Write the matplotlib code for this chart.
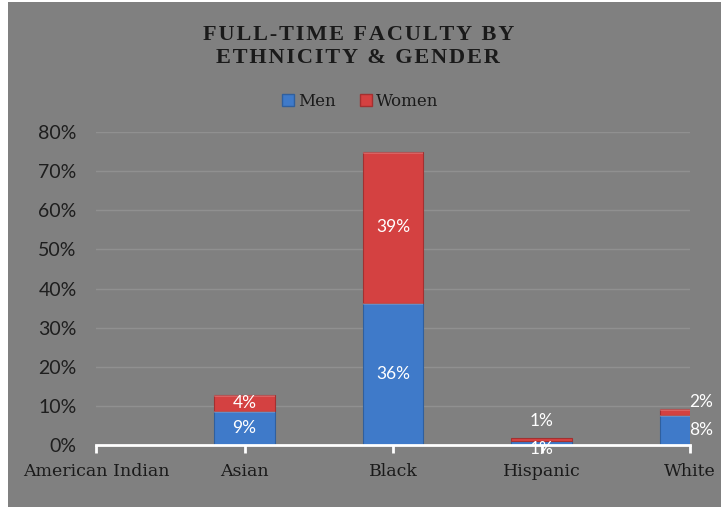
import matplotlib
matplotlib.use("Agg")
import matplotlib.pyplot as plt
from matplotlib.patches import Rectangle
from matplotlib.lines import Line2D
import numpy as np

# data (fractions)
categories = ["American Indian", "Asian", "Black", "Hispanic", "White"]
men = [0.0, 0.087, 0.363, 0.009, 0.077]
women = [0.0, 0.041, 0.386, 0.009, 0.016]
yticks = [0, 0.1, 0.2, 0.3, 0.4, 0.5, 0.6, 0.7, 0.8]
title_lines = ["FULL-TIME FACULTY BY", "ETHNICITY & GENDER"]

bg = "#808080"
blue = "#3F7AC9"
red = "#D44141"

fig = plt.figure(figsize=(7.21, 5.07), dpi=100)
fig.patch.set_facecolor("white")
fig.patches.append(Rectangle((8 / 721, 0), 1, 1 - 2 / 507, transform=fig.transFigure,
                             facecolor=bg, edgecolor="none", zorder=-10))

ax = fig.add_axes([96 / 721, 62 / 507, 594 / 721, 313 / 507])
ax.set_facecolor(bg)
x = np.arange(len(categories))
w = 0.41

b1 = ax.bar(x, men, w, color=blue, edgecolor="#2f5f9e", linewidth=0.8, zorder=3)
b2 = ax.bar(x, women, w, bottom=men, color=red, edgecolor="#a33030", linewidth=0.8, zorder=3)

# light bevel on top of each segment
for bars in (b1, b2):
    for r in bars:
        if r.get_height() > 0.01:
            ax.add_patch(Rectangle((r.get_x(), r.get_y() + r.get_height() - 0.006), r.get_width(),
                                   0.006, facecolor="white", alpha=0.18, edgecolor="none", zorder=3.5))

ax.set_xlim(0, len(categories) - 1)
ax.set_ylim(0, 0.8)
ax.set_yticks(yticks)
ax.set_yticklabels([f"{int(round(t * 100))}%" for t in yticks],
                   fontsize=14, color="#1e1e1e", family="Lato")
ax.set_xticks(x)
ax.set_xticklabels(categories, fontsize=12.5, color="#1a1a1a", family="DejaVu Serif")
ax.tick_params(axis="y", length=0, pad=14)
ax.tick_params(axis="x", length=6, width=2, color="white", pad=7)

ax.grid(axis="y", color="#909090", linewidth=1, zorder=0)
for s in ["top", "right", "left"]:
    ax.spines[s].set_visible(False)
ax.spines["bottom"].set_color("white")
ax.spines["bottom"].set_linewidth(2)
ax.spines["bottom"].set_zorder(4)

# data labels
for i in range(len(categories)):
    if men[i] == 0 and women[i] == 0:
        continue
    dx = 8 if i == len(categories) - 1 else 0
    m_off = -4 if men[i] < 0.03 else 0
    ax.annotate(f"{men[i] * 100:.0f}%", (x[i], men[i] / 2), xytext=(dx, m_off),
                textcoords="offset points", ha="center", va="center",
                color="white", fontsize=12.5, family="Lato", zorder=5, annotation_clip=False)
    if women[i] < 0.03:
        y = men[i] + women[i]
        off = 12 if i == 3 else 5
    else:
        y = men[i] + women[i] / 2
        off = 0
    ax.annotate(f"{women[i] * 100:.0f}%", (x[i], y), xytext=(dx, off),
                textcoords="offset points", ha="center", va="center",
                color="white", fontsize=12.5, family="Lato", zorder=5, annotation_clip=False)

# spaced-out title
spaced = "\n".join("\u200a".join(line) for line in title_lines)
fig.text(0.497, 0.908, spaced, ha="center", va="center",
         fontsize=16, fontweight="bold", family="Liberation Serif", color="#1a1a1a",
         linespacing=1.2)

handles = [Line2D([], [], marker="s", linestyle="none", markersize=9, markerfacecolor=blue,
                  markeredgecolor="#2f5f9e"),
           Line2D([], [], marker="s", linestyle="none", markersize=9, markerfacecolor=red,
                  markeredgecolor="#a33030")]
leg = fig.legend(handles, ["Men", "Women"], loc="center", bbox_to_anchor=(0.497, 0.8),
                 ncol=2, frameon=False, handletextpad=0.0, columnspacing=1.2, handlelength=1.2,
                 prop={"family": "DejaVu Serif", "size": 12})
for t in leg.get_texts():
    t.set_color("#1a1a1a")

fig.savefig("out.png", dpi=100, facecolor=fig.get_facecolor())
